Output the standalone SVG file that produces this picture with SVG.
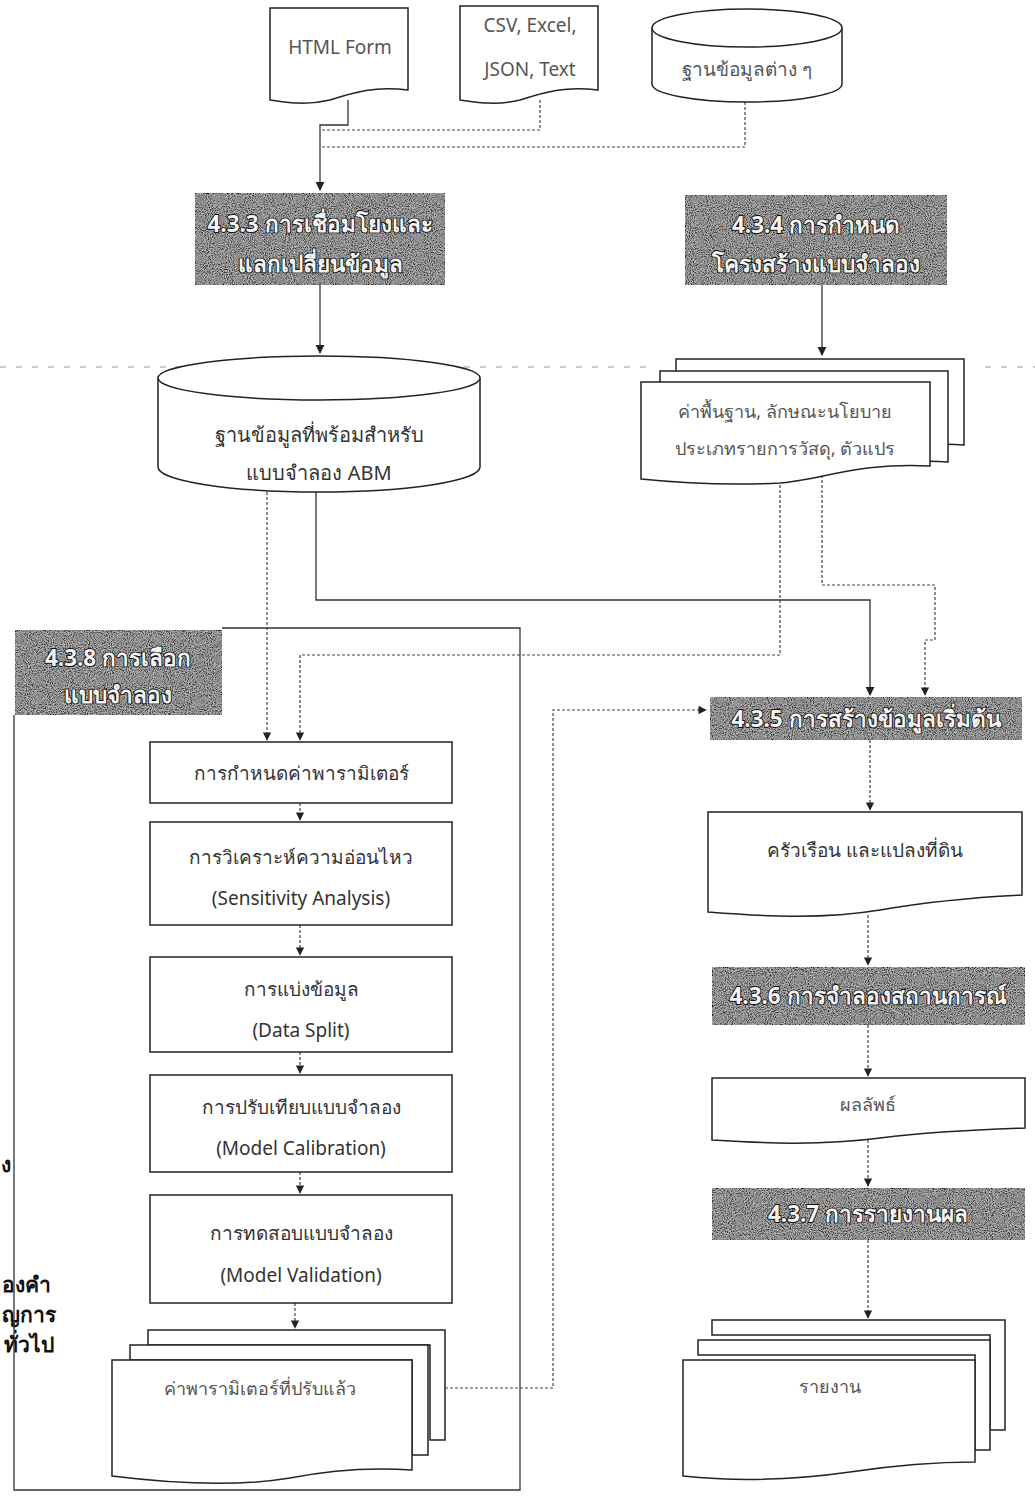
<svg xmlns="http://www.w3.org/2000/svg" width="1035" height="1508" viewBox="0 0 1035 1508">
<defs>
<style>
.sh{fill:#fff;stroke:#222;stroke-width:1.5}
.t{font-family:"Noto Sans","DejaVu Sans",sans-serif;font-size:19px;fill:#333;text-anchor:middle}
.tl{font-family:"Noto Sans","DejaVu Sans",sans-serif;font-size:19px;fill:#555;text-anchor:middle}
.hd{fill:#3a3a3a;stroke:#111;stroke-width:1.6}
.ht{font-family:"Noto Sans","DejaVu Sans",sans-serif;font-size:22.5px;font-weight:bold;fill:#f4f4f4;stroke:#111;stroke-width:1.8;paint-order:stroke;text-anchor:middle}
.c{fill:none;stroke:#333;stroke-width:1.3}
.d{fill:none;stroke:#444;stroke-width:1.2;stroke-dasharray:3 2}
.bk{font-family:"Noto Sans","DejaVu Sans",sans-serif;font-size:21px;font-weight:bold;fill:#111}
</style>
<filter id="grain" x="0" y="0" width="100%" height="100%">
<feTurbulence type="fractalNoise" baseFrequency="0.95" numOctaves="2" seed="3" result="n"/>
<feColorMatrix in="n" type="matrix" values="0 0 0 0 0  0 0 0 0 0  0 0 0 0 0  0 0 0 -2.6 1.75" result="a"/>
<feComposite in="SourceGraphic" in2="a" operator="in" result="g"/>
<feFlood flood-color="#b4b4b4" result="w"/>
<feComposite in="w" in2="SourceGraphic" operator="in" result="wb"/>
<feMerge><feMergeNode in="wb"/><feMergeNode in="g"/></feMerge>
</filter>
<marker id="ar" viewBox="0 0 10 10" refX="9" refY="5" markerWidth="7" markerHeight="7" orient="auto-start-reverse">
<path d="M0,0 L10,5 L0,10 z" fill="#222"/>
</marker>
</defs>
<rect width="1035" height="1508" fill="#fff"/>

<path d="M0 367 H650 M985 367 H1035" fill="none" stroke="#999" stroke-width="1.2" stroke-dasharray="6 10"/>

<text class="bk" x="1" y="1172">ง</text>
<text class="bk" x="2" y="1292">องคำ</text>
<text class="bk" x="2" y="1322">ญการ</text>
<text class="bk" x="4" y="1352">ทั่วไป</text>

<g id="connectors">
<path class="c" d="M348 100 V125 H320 V190" marker-end="url(#ar)"/>
<path class="d" d="M540 100 V130 H320"/>
<path class="d" d="M745 102 V147 H320"/>
<path class="c" d="M320 285 V353" marker-end="url(#ar)"/>
<path class="c" d="M822 285 V355" marker-end="url(#ar)"/>
<path class="d" d="M267 492 V740" marker-end="url(#ar)"/>
<path class="c" d="M316 492 V600 H870 V695" marker-end="url(#ar)"/>
<path class="d" d="M780 480 V655 H300 V740" marker-end="url(#ar)"/>
<path class="d" d="M822 475 V585 H935 V640 H925 V695" marker-end="url(#ar)"/>
<path class="c" d="M222 628 H520 V1490 H14 V715"/>
<path class="d" d="M300 803 V820" marker-end="url(#ar)"/>
<path class="d" d="M300 925 V955" marker-end="url(#ar)"/>
<path class="d" d="M300 1052 V1073" marker-end="url(#ar)"/>
<path class="d" d="M300 1172 V1193" marker-end="url(#ar)"/>
<path class="d" d="M295 1303 V1328" marker-end="url(#ar)"/>
<path class="d" d="M445 1388 H553 V710 H706" marker-end="url(#ar)"/>
<path class="d" d="M870 740 V810" marker-end="url(#ar)"/>
<path class="d" d="M868 915 V965" marker-end="url(#ar)"/>
<path class="d" d="M868 1025 V1076" marker-end="url(#ar)"/>
<path class="d" d="M868 1135 V1186" marker-end="url(#ar)"/>
<path class="d" d="M868 1240 V1318" marker-end="url(#ar)"/>
</g>

<g id="n-html">
<path class="sh" d="M270 8 H408 V90 C375 86 355 92 330 100 C305 106 285 102 270 100 Z"/>
<text class="tl" x="340" y="54">HTML Form</text>
</g>
<g id="n-csv">
<path class="sh" d="M460 6 H598 V90 C565 86 545 92 520 100 C495 106 475 102 460 100 Z"/>
<text class="tl" x="530" y="32">CSV, Excel,</text>
<text class="tl" x="530" y="76">JSON, Text</text>
</g>
<g id="n-db">
<path class="sh" d="M652 28 V84 A95 18 0 0 0 842 84 V28"/>
<ellipse class="sh" cx="747" cy="28" rx="95" ry="19"/>
<text class="tl" x="747" y="76">ฐานข้อมูลต่าง ๆ</text>
</g>

<g id="n-433">
<rect class="hd" x="195" y="193" width="250" height="92" filter="url(#grain)"/>
<text class="ht" x="320" y="232">4.3.3 การเชื่อมโยงและ</text>
<text class="ht" x="320" y="272">แลกเปลี่ยนข้อมูล</text>
</g>
<g id="n-434">
<rect class="hd" x="685" y="195" width="262" height="90" filter="url(#grain)"/>
<text class="ht" x="816" y="233">4.3.4 การกำหนด</text>
<text class="ht" x="816" y="272">โครงสร้างแบบจำลอง</text>
</g>

<g id="n-abm">
<path class="sh" d="M158 378 V467 A161 25 0 0 0 480 467 V378"/>
<ellipse class="sh" cx="319" cy="378" rx="161" ry="22"/>
<text class="t" x="319" y="442" style="font-size:20px">ฐานข้อมูลที่พร้อมสำหรับ</text>
<text class="t" x="319" y="480" style="font-size:20px">แบบจำลอง ABM</text>
</g>

<g id="n-struct">
<path class="sh" d="M676 359 H964 V445 C940 443 920 445 900 448 V452 H676 Z"/>
<path class="sh" d="M660 371 H948 V462 C920 460 900 462 880 466 H660 Z"/>
<path class="sh" d="M641 382 H930 V466 C860 462 820 480 780 483 C720 486 670 482 641 479 Z"/>
<text class="tl" x="785" y="418" style="font-size:18px">ค่าพื้นฐาน, ลักษณะนโยบาย</text>
<text class="tl" x="785" y="455" style="font-size:18px">ประเภทรายการวัสดุ, ตัวแปร</text>
</g>

<g id="n-438">
<rect class="hd" x="15" y="630" width="207" height="85" filter="url(#grain)"/>
<text class="ht" x="118" y="666">4.3.8 การเลือก</text>
<text class="ht" x="118" y="703">แบบจำลอง</text>
</g>

<g id="n-param">
<rect class="sh" x="150" y="742" width="302" height="61"/>
<text class="t" x="301" y="780">การกำหนดค่าพารามิเตอร์</text>
</g>
<g id="n-sens">
<rect class="sh" x="150" y="822" width="302" height="103"/>
<text class="t" x="301" y="864">การวิเคราะห์ความอ่อนไหว</text>
<text class="t" x="301" y="905">(Sensitivity Analysis)</text>
</g>
<g id="n-split">
<rect class="sh" x="150" y="957" width="302" height="95"/>
<text class="t" x="301" y="996">การแบ่งข้อมูล</text>
<text class="t" x="301" y="1037">(Data Split)</text>
</g>
<g id="n-calib">
<rect class="sh" x="150" y="1075" width="302" height="97"/>
<text class="t" x="301" y="1114">การปรับเทียบแบบจำลอง</text>
<text class="t" x="301" y="1155">(Model Calibration)</text>
</g>
<g id="n-valid">
<rect class="sh" x="150" y="1195" width="302" height="108"/>
<text class="t" x="301" y="1240">การทดสอบแบบจำลอง</text>
<text class="t" x="301" y="1282">(Model Validation)</text>
</g>
<g id="n-paramdoc">
<path class="sh" d="M148 1330 H445 V1440 H430 V1345 H148 Z"/>
<path class="sh" d="M130 1345 H428 V1455 H412 V1360 H130 Z"/>
<path class="sh" d="M112 1360 H412 V1470 C370 1467 330 1470 290 1478 C230 1488 160 1482 112 1476 Z"/>
<text class="tl" x="260" y="1395" style="font-size:18px">ค่าพารามิเตอร์ที่ปรับแล้ว</text>
</g>

<g id="n-435">
<rect class="hd" x="710" y="697" width="312" height="43" filter="url(#grain)"/>
<text class="ht" x="866" y="727">4.3.5 การสร้างข้อมูลเริ่มต้น</text>
</g>
<g id="n-house">
<path class="sh" d="M708 812 H1022 V895 C960 898 920 903 880 910 C820 920 760 916 708 912 Z"/>
<text class="t" x="865" y="857">ครัวเรือน และแปลงที่ดิน</text>
</g>
<g id="n-436">
<rect class="hd" x="712" y="967" width="313" height="58" filter="url(#grain)"/>
<text class="ht" x="868" y="1004">4.3.6 การจำลองสถานการณ์</text>
</g>
<g id="n-result">
<path class="sh" d="M712 1078 H1025 V1128 C960 1130 920 1133 880 1138 C820 1146 760 1143 712 1140 Z"/>
<text class="tl" x="868" y="1111" style="font-size:18px">ผลลัพธ์</text>
</g>
<g id="n-437">
<rect class="hd" x="712" y="1188" width="313" height="52" filter="url(#grain)"/>
<text class="ht" x="868" y="1222">4.3.7 การรายงานผล</text>
</g>
<g id="n-report">
<path class="sh" d="M712 1320 H1005 V1430 H990 V1335 H712 Z"/>
<path class="sh" d="M698 1340 H990 V1450 H975 V1355 H698 Z"/>
<path class="sh" d="M683 1360 H975 V1462 C930 1462 890 1466 850 1472 C780 1482 720 1480 683 1476 Z"/>
<text class="tl" x="830" y="1393" style="font-size:18px">รายงาน</text>
</g>
</svg>
